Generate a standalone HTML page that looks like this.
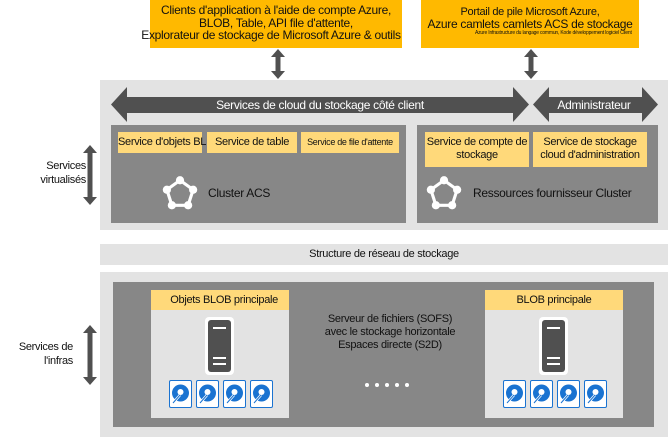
<!DOCTYPE html>
<html><head><meta charset="utf-8"><style>
body{margin:0;width:668px;height:437px;background:#fff;position:relative;overflow:hidden;font-family:"Liberation Sans",sans-serif;font-size:11px;color:#111;letter-spacing:-0.3px}
.a{position:absolute}
.or{background:#FFB900;text-align:center}
.lg{background:#e3e3e3}
.dk{background:#878787}
.yt{background:#FFD97A}
.c{text-align:center}
</style></head><body>
<div class="a or" style="left:150px;top:0;width:252px;height:48px;font-size:12px;line-height:12.5px;padding-top:4px;box-sizing:border-box">Clients d'application à l'aide de compte Azure,<br>BLOB, Table, API file d'attente,<br><span style="white-space:nowrap;margin-left:-10px">Explorateur de stockage de Microsoft Azure &amp; outils</span></div>
<div class="a or" style="left:421px;top:0;width:218px;height:48px;font-size:11px;line-height:12px;padding-top:6px;box-sizing:border-box">Portail de pile Microsoft Azure,<br><span style="font-size:12px">Azure camlets camlets ACS de stockage</span></div>
<div class="a" style="left:475px;top:30px;font-size:5px;white-space:nowrap;letter-spacing:-0.2px">Azure Infrastructure du langage commun, Kode développement logiciel Client</div>

<div class="a lg" style="left:100px;top:80px;width:568px;height:150px"></div>
<div class="a dk" style="left:111px;top:125px;width:295px;height:98px"></div>
<div class="a dk" style="left:417px;top:125px;width:241px;height:98px"></div>
<div class="a yt c" style="left:118px;top:132px;width:84px;height:21px;line-height:21px;white-space:nowrap;overflow:visible">Service d'objets BL</div>
<div class="a yt c" style="left:207px;top:132px;width:90px;height:21px;line-height:21px">Service de table</div>
<div class="a yt c" style="left:301px;top:132px;width:98px;height:21px;line-height:21px;font-size:9px">Service de file d'attente</div>
<div class="a yt c" style="left:425px;top:132px;width:104px;height:35px;line-height:13px;padding-top:4px;box-sizing:border-box">Service de compte de stockage</div>
<div class="a yt c" style="left:533px;top:132px;width:114px;height:35px;line-height:13px;padding-top:4px;box-sizing:border-box;white-space:nowrap">Service de stockage<br>cloud d'administration</div>
<div class="a" style="left:208px;top:186px;font-size:12px">Cluster ACS</div>
<div class="a" style="left:473px;top:186px;font-size:12px">Ressources fournisseur Cluster</div>

<div class="a lg c" style="left:100px;top:244px;width:568px;height:21px;line-height:21px">Structure de réseau de stockage</div>
<div class="a lg" style="left:100px;top:272px;width:568px;height:165px"></div>
<div class="a dk" style="left:113px;top:282px;width:541px;height:145px"></div>
<div class="a" style="left:151px;top:290px;width:138px;height:128px;background:#e3e3e3"></div>
<div class="a" style="left:485px;top:290px;width:138px;height:128px;background:#e3e3e3"></div>
<div class="a yt c" style="left:151px;top:290px;width:138px;height:20px;line-height:20px">&nbsp;&nbsp;&nbsp;Objets BLOB principale</div>
<div class="a yt c" style="left:485px;top:290px;width:138px;height:20px;line-height:20px">BLOB principale</div>
<div class="a c" style="left:300px;top:313px;width:180px;line-height:13px">Serveur de fichiers (SOFS)<br>avec le stockage horizontale<br>Espaces directe (S2D)</div>

<div class="a" style="left:10px;top:159px;text-align:right;width:76px;line-height:14px">Services<br>virtualisés</div>
<div class="a" style="left:0px;top:340px;text-align:right;width:73px;line-height:14px">Services de<br>l'infras</div>

<svg class="a" style="left:0;top:0" width="668" height="437">
<defs>
<g id="va"><polygon points="0,-15 7,-7 2.5,-7 2.5,7 7,7 0,15 -7,7 -2.5,7 -2.5,-7 -7,-7" fill="#505050"/></g>
<g id="ic"><polygon points="0,-11 10.5,-3.4 6.5,9 -6.5,9 -10.5,-3.4" fill="none" stroke="#fff" stroke-width="2.5"/><g fill="#fff"><circle cx="0" cy="-11" r="3.3"/><circle cx="10.5" cy="-3.4" r="3.3"/><circle cx="6.5" cy="9" r="3.3"/><circle cx="-6.5" cy="9" r="3.3"/><circle cx="-10.5" cy="-3.4" r="3.3"/></g></g>
<g id="sv"><rect x="0" y="0" width="29" height="58" rx="4" fill="#fff"/><rect x="3" y="3" width="23" height="52" rx="3" fill="#505050"/><rect x="8" y="10" width="13" height="2" fill="#fff"/><rect x="8" y="40" width="13" height="2" fill="#fff"/><rect x="8" y="46" width="13" height="2" fill="#fff"/></g>
<g id="dk"><rect x="0.5" y="0.5" width="22" height="27" rx="1.5" fill="#fff" stroke="#1a73d1"/><circle cx="11.5" cy="13" r="8.5" fill="#1a73d1"/><circle cx="11.5" cy="12" r="3" fill="#fff"/><line x1="4" y1="23" x2="11" y2="15" stroke="#fff" stroke-width="2.5"/><line x1="4" y1="23" x2="11" y2="15" stroke="#1a73d1" stroke-width="1"/></g>
</defs>
<use href="#va" x="278" y="64"/>
<use href="#va" x="531" y="64"/>
<polygon points="111,104.5 127,87 127,97 513,97 513,87 529,104.5 513,122 513,113 127,113 127,122" fill="#505050"/>
<polygon points="533,104.5 549,87 549,97 642,97 642,87 658,104.5 642,122 642,113 549,113 549,122" fill="#505050"/>
<text x="320" y="109" fill="#fff" font-size="12" text-anchor="middle" font-family="Liberation Sans">Services de cloud du stockage côté client</text>
<text x="594" y="109" fill="#fff" font-size="12" text-anchor="middle" font-family="Liberation Sans">Administrateur</text>
<polygon points="90,145 97,153 92.5,153 92.5,197 97,197 90,205 83,197 87.5,197 87.5,153 83,153" fill="#505050"/>
<polygon points="90,325 97,333 92.5,333 92.5,377 97,377 90,385 83,377 87.5,377 87.5,333 83,333" fill="#505050"/>
<g transform="translate(180,194) scale(1.25)"><use href="#ic"/></g>
<g transform="translate(444,194) scale(1.25)"><use href="#ic"/></g>
<use href="#sv" x="205" y="317"/>
<use href="#sv" x="539" y="317"/>
<use href="#dk" x="169" y="380"/><use href="#dk" x="196" y="380"/><use href="#dk" x="223" y="380"/><use href="#dk" x="250" y="380"/>
<use href="#dk" x="503" y="380"/><use href="#dk" x="530" y="380"/><use href="#dk" x="557" y="380"/><use href="#dk" x="584" y="380"/>
<g fill="#fff"><circle cx="367" cy="385" r="2"/><circle cx="377" cy="385" r="2"/><circle cx="387" cy="385" r="2"/><circle cx="397" cy="385" r="2"/><circle cx="407" cy="385" r="2"/></g>
</svg>
</body></html>
